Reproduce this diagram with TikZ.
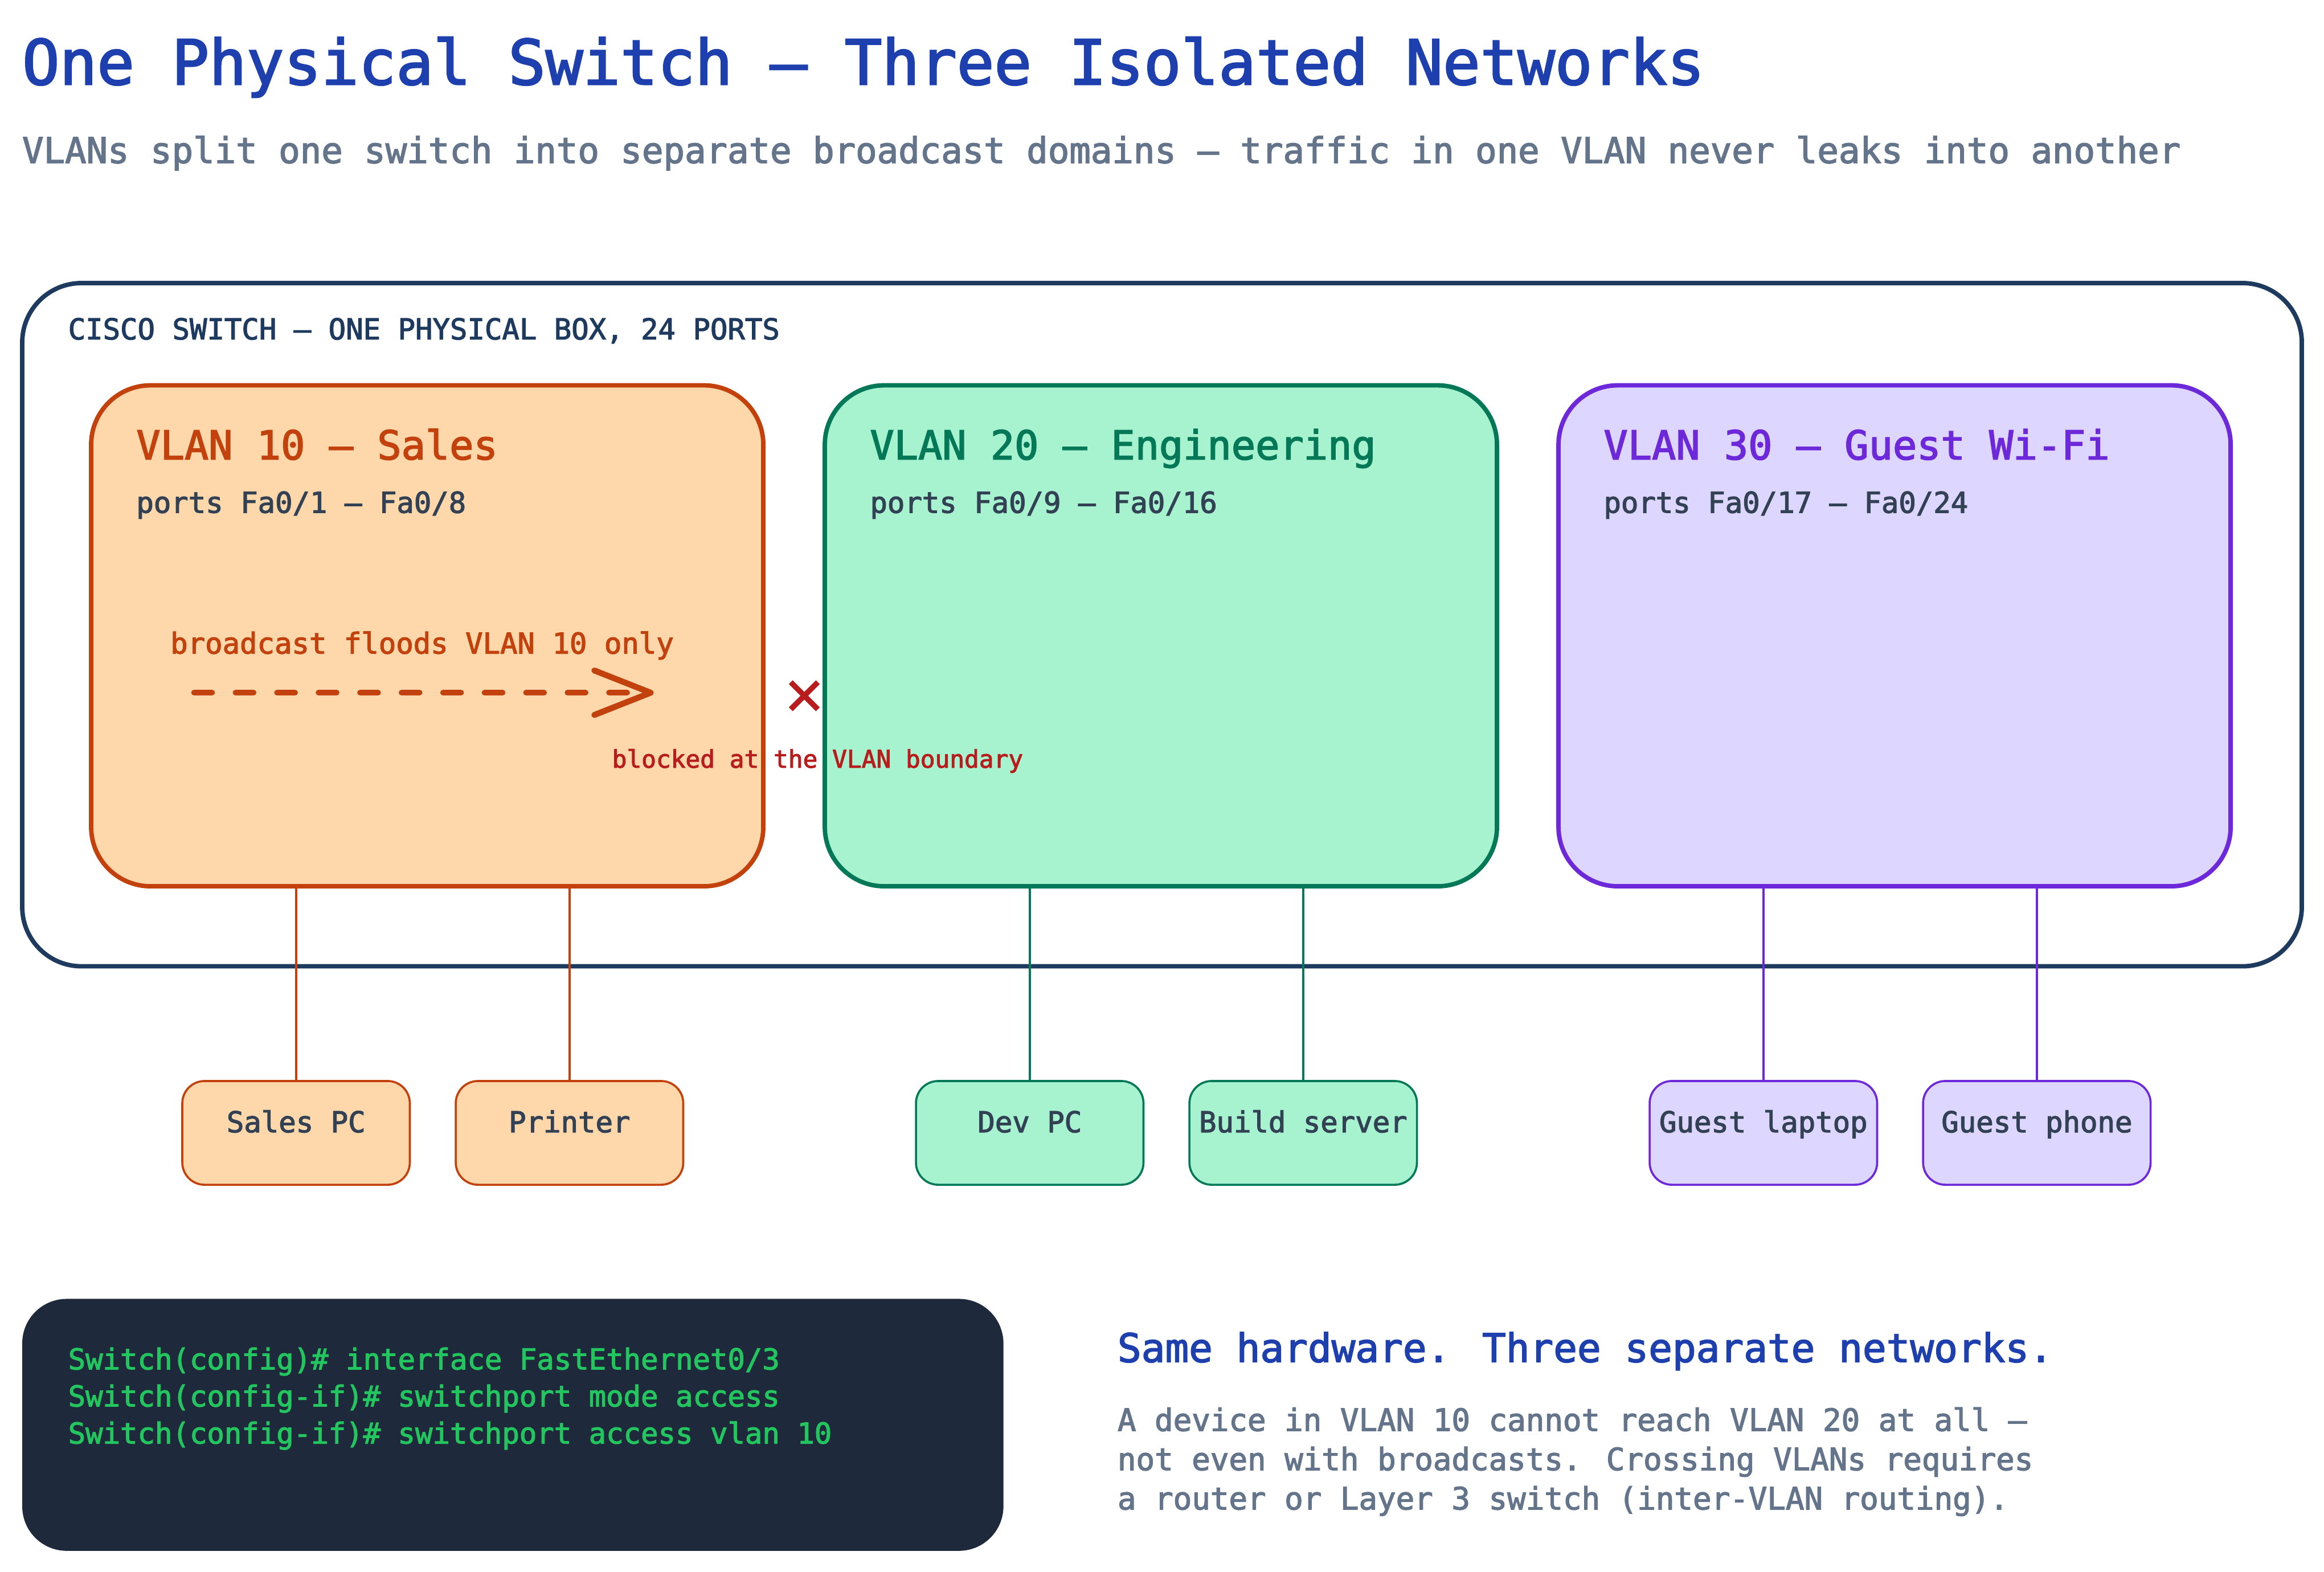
\documentclass[tikz,border=0pt]{standalone}
\usepackage{fontspec}
\setmainfont{DejaVu Sans Mono}
\newfontfamily\medfont[FakeBold=2.4]{DejaVu Sans Mono}
\newfontfamily\crossfont{DejaVu Sans Mono}
\usetikzlibrary{arrows.meta}

\definecolor{titleblue}{HTML}{1E40AF}
\definecolor{slate}{HTML}{64748B}
\definecolor{navy}{HTML}{1E3A5F}
\definecolor{ink}{HTML}{334155}
\definecolor{salesline}{HTML}{C2410C}
\definecolor{salesfill}{HTML}{FED7AA}
\definecolor{engline}{HTML}{047857}
\definecolor{engfill}{HTML}{A7F3D0}
\definecolor{guestline}{HTML}{6D28D9}
\definecolor{guestfill}{HTML}{DDD6FE}
\definecolor{blockred}{HTML}{B91C1C}
\definecolor{termfill}{HTML}{1E293B}
\definecolor{termgreen}{HTML}{22C55E}

\newcommand{\fsize}[1]{\fontsize{#1}{#1}\selectfont}

\tikzset{
  txt/.style={inner sep=0pt, outer sep=0pt, anchor=base west, font=\medfont\fsize{19.45}},
  vlanbox/.style={rectangle, draw=#1, line width=3pt, rounded corners=40pt,
    minimum width=453.5pt, minimum height=338pt, inner sep=0pt},
  devbox/.style={rectangle, draw=#1, line width=1.4pt, rounded corners=15pt,
    minimum width=153.5pt, minimum height=70pt, inner sep=0pt},
  devtxt/.style={txt, anchor=base, text=ink},
  wire/.style={line width=1.5pt}
}

\begin{document}
\begin{tikzpicture}[x=1pt, y=-1pt]
  \useasboundingbox (0, 0) rectangle (1568, 1060.7);

  % Title
  \node[txt, font=\medfont\fsize{41.9}, text=titleblue] (title) at (15, 57) {One Physical Switch — Three Isolated Networks};
  \node[txt, font=\medfont\fsize{23.95}, text=slate] (subtitle) at (15, 110)
    {VLANs split one switch into separate broadcast domains — traffic in one VLAN never leaks into another};

  % Switch chassis
  \node[rectangle, draw=navy, fill=white, line width=3pt, rounded corners=40pt,
        minimum width=1538pt, minimum height=461pt, inner sep=0pt] (switch) at (784, 421.5) {};
  \node[txt, text=navy] (switchlabel) at (46, 229) {CISCO SWITCH — ONE PHYSICAL BOX, 24 PORTS};

  % VLAN boxes
  \node[vlanbox=salesline, fill=salesfill] (vlan10) at (288.25, 429) {};
  \node[vlanbox=engline,   fill=engfill]   (vlan20) at (783.25, 429) {};
  \node[vlanbox=guestline, fill=guestfill] (vlan30) at (1278.25, 429) {};

  \node[txt, font=\medfont\fsize{27}, text=salesline] (vlan10name) at (92, 310) {VLAN 10 — Sales};
  \node[txt, font=\medfont\fsize{27}, text=engline]   (vlan20name) at (587, 310) {VLAN 20 — Engineering};
  \node[txt, font=\medfont\fsize{27}, text=guestline] (vlan30name) at (1082, 310) {VLAN 30 — Guest Wi-Fi};

  \node[txt, text=ink] (vlan10ports) at (92, 346) {ports Fa0/1 — Fa0/8};
  \node[txt, text=ink] (vlan20ports) at (587, 346) {ports Fa0/9 — Fa0/16};
  \node[txt, text=ink] (vlan30ports) at (1082, 346) {ports Fa0/17 — Fa0/24};

  % Broadcast arrow
  \node[txt, text=salesline] (floodlabel) at (115, 441) {broadcast floods VLAN 10 only};
  \coordinate (floodstart) at (131, 467.4);
  \coordinate (floodend) at (441, 467.4);
  \draw[salesline, line width=4pt, line cap=round, dash pattern=on 12pt off 16pt,
        -{Straight Barb[length=38pt, width=30pt, line width=4pt, round]}] (floodstart) -- (floodend);

  % Blocked mark
  \node[txt, anchor=center, font=\crossfont\fsize{46}, text=blockred] (cross) at (542.7, 471.5) {×};
  \node[txt, font=\medfont\fsize{16.45}, text=blockred] (blocked) at (413, 518) {blocked at the VLAN boundary};

  % Devices
  \node[devbox=salesline, fill=salesfill] (salespc) at (199.75, 764.4) {};
  \node[devbox=salesline, fill=salesfill] (printer) at (384.25, 764.4) {};
  \node[devbox=engline,   fill=engfill]   (devpc)   at (694.75, 764.4) {};
  \node[devbox=engline,   fill=engfill]   (build)   at (879.25, 764.4) {};
  \node[devbox=guestline, fill=guestfill] (laptop)  at (1189.75, 764.4) {};
  \node[devbox=guestline, fill=guestfill] (phone)   at (1374.25, 764.4) {};

  \node[devtxt] (salespctxt) at (199.75, 764) {Sales PC};
  \node[devtxt] (printertxt) at (384.25, 764) {Printer};
  \node[devtxt] (devpctxt)   at (694.75, 764) {Dev PC};
  \node[devtxt] (buildtxt)   at (879.25, 764) {Build server};
  \node[devtxt] (laptoptxt)  at (1189.75, 764) {Guest laptop};
  \node[devtxt] (phonetxt)   at (1374.25, 764) {Guest phone};

  % Wires
  \draw[wire, salesline] (salespc.north |- vlan10.south) -- (salespc.north);
  \draw[wire, salesline] (printer.north |- vlan10.south) -- (printer.north);
  \draw[wire, engline]   (devpc.north |- vlan20.south) -- (devpc.north);
  \draw[wire, engline]   (build.north |- vlan20.south) -- (build.north);
  \draw[wire, guestline] (laptop.north |- vlan30.south) -- (laptop.north);
  \draw[wire, guestline] (phone.north |- vlan30.south) -- (phone.north);

  % Terminal
  \node[rectangle, fill=termfill, rounded corners=30pt, minimum width=662pt,
        minimum height=170pt, inner sep=0pt] (terminal) at (346, 961.4) {};
  \node[txt, text=termgreen] (cmd1) at (46, 924) {Switch(config)\# interface FastEthernet0/3};
  \node[txt, text=termgreen] (cmd2) at (46, 949) {Switch(config-if)\# switchport mode access};
  \node[txt, text=termgreen] (cmd3) at (46, 974) {Switch(config-if)\# switchport access vlan 10};

  % Side note
  \node[txt, font=\medfont\fsize{26.65}, text=titleblue] (notehead) at (754, 919) {Same hardware. Three separate networks.};
  \node[txt, font=\medfont\fsize{20.8}, text=slate] (note1) at (754, 965.5) {A device in VLAN 10 cannot reach VLAN 20 at all —};
  \node[txt, font=\medfont\fsize{20.8}, text=slate] (note2) at (754, 992) {not even with broadcasts. Crossing VLANs requires};
  \node[txt, font=\medfont\fsize{20.8}, text=slate] (note3) at (754, 1018.5) {a router or Layer 3 switch (inter-VLAN routing).};
\end{tikzpicture}
\end{document}
